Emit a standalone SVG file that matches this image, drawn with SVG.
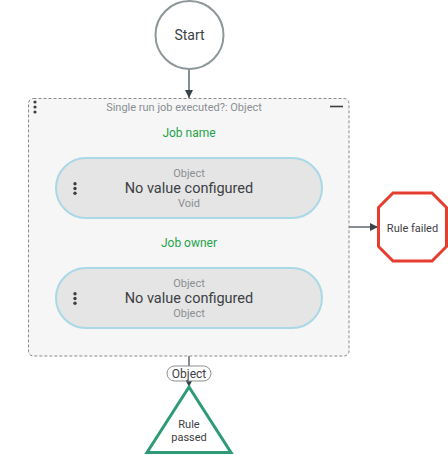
<svg xmlns="http://www.w3.org/2000/svg" width="448" height="455" viewBox="0 0 448 455">
<defs>
<style>
text{font-family:Roboto,"Liberation Sans",sans-serif;text-anchor:middle}
.dark{fill:#3c4043}
.grey{fill:#8a8f93}
.green{fill:#1ea34a;font-size:12px}
.pill{fill:#e5e5e5;stroke:#a9d8e6;stroke-width:2}
.dot{fill:#3c4043}
.edge{stroke:#37424a;stroke-width:1.2;fill:none}
.big{font-size:14.5px}
</style>
<marker id="arr" viewBox="0 0 10 10" refX="10" refY="5" markerWidth="8" markerHeight="8" markerUnits="userSpaceOnUse" orient="auto">
<path d="M0,0 L10,5 L0,10 z" fill="#37424a"/>
</marker>
</defs>
<rect width="448" height="455" fill="#ffffff"/>
<g id="connectors">
<line class="edge" x1="189" y1="69" x2="189" y2="98" marker-end="url(#arr)"/>
<line class="edge" x1="349" y1="227" x2="378" y2="227" marker-end="url(#arr)"/>
<line class="edge" x1="189" y1="356" x2="189" y2="366"/>
<line class="edge" x1="189" y1="381" x2="189" y2="387" marker-end="url(#arr)"/>
<g id="edge-label">
<rect x="167" y="366" width="44" height="15" rx="7.5" fill="#ffffff" stroke="#8a8f93" stroke-width="1"/>
<text x="189" y="377.5" font-size="12" class="dark">Object</text>
</g>
</g>
<g id="start">
<circle cx="189.5" cy="35" r="34" fill="#ffffff" stroke="#8d9699" stroke-width="2"/>
<text x="189.5" y="40" font-size="14" class="dark">Start</text>
</g>
<g id="container">
<rect x="28.5" y="98.5" width="320.5" height="257.5" rx="5" fill="#f6f6f6" stroke="#8a8a8a" stroke-width="1" stroke-dasharray="3,2"/>
<circle class="dot" cx="35" cy="102" r="1.6"/>
<circle class="dot" cx="35" cy="107" r="1.6"/>
<circle class="dot" cx="35" cy="112" r="1.6"/>
<line x1="330" y1="106.5" x2="343" y2="106.5" stroke="#3c4043" stroke-width="1.6"/>
<text x="184" y="110.5" font-size="11" class="grey">Single run job executed?: Object</text>
</g>
<g id="job-name">
<text x="189" y="136.5" class="green">Job name</text>
<rect class="pill" x="56" y="158" width="266" height="60" rx="30"/>
<circle class="dot" cx="75" cy="183.7" r="1.7"/>
<circle class="dot" cx="75" cy="188.5" r="1.7"/>
<circle class="dot" cx="75" cy="193.3" r="1.7"/>
<text x="189" y="177" font-size="11" class="grey">Object</text>
<text x="189" y="193" class="dark big">No value configured</text>
<text x="189" y="207" font-size="11" class="grey">Void</text>
</g>
<g id="job-owner">
<text x="189" y="246.5" class="green">Job owner</text>
<rect class="pill" x="56" y="268" width="266" height="60" rx="30"/>
<circle class="dot" cx="75" cy="293.7" r="1.7"/>
<circle class="dot" cx="75" cy="298.5" r="1.7"/>
<circle class="dot" cx="75" cy="303.3" r="1.7"/>
<text x="189" y="287" font-size="11" class="grey">Object</text>
<text x="189" y="303" class="dark big">No value configured</text>
<text x="189" y="317" font-size="11" class="grey">Object</text>
</g>
<g id="rule-failed">
<polygon points="393,193 432,193 446.5,207.5 446.5,246.5 432,261 393,261 378.5,246.5 378.5,207.5" fill="#ffffff" stroke="#e53e30" stroke-width="3"/>
<text x="412.5" y="231.5" font-size="11" class="dark">Rule failed</text>
</g>
<g id="rule-passed">
<polygon points="189,387 147,452.5 231,452.5" fill="#ffffff" stroke="#2e9a78" stroke-width="3" stroke-linejoin="miter"/>
<text x="189" y="428" font-size="11" class="dark">Rule</text>
<text x="189" y="441" font-size="11" class="dark">passed</text>
</g>
</svg>
